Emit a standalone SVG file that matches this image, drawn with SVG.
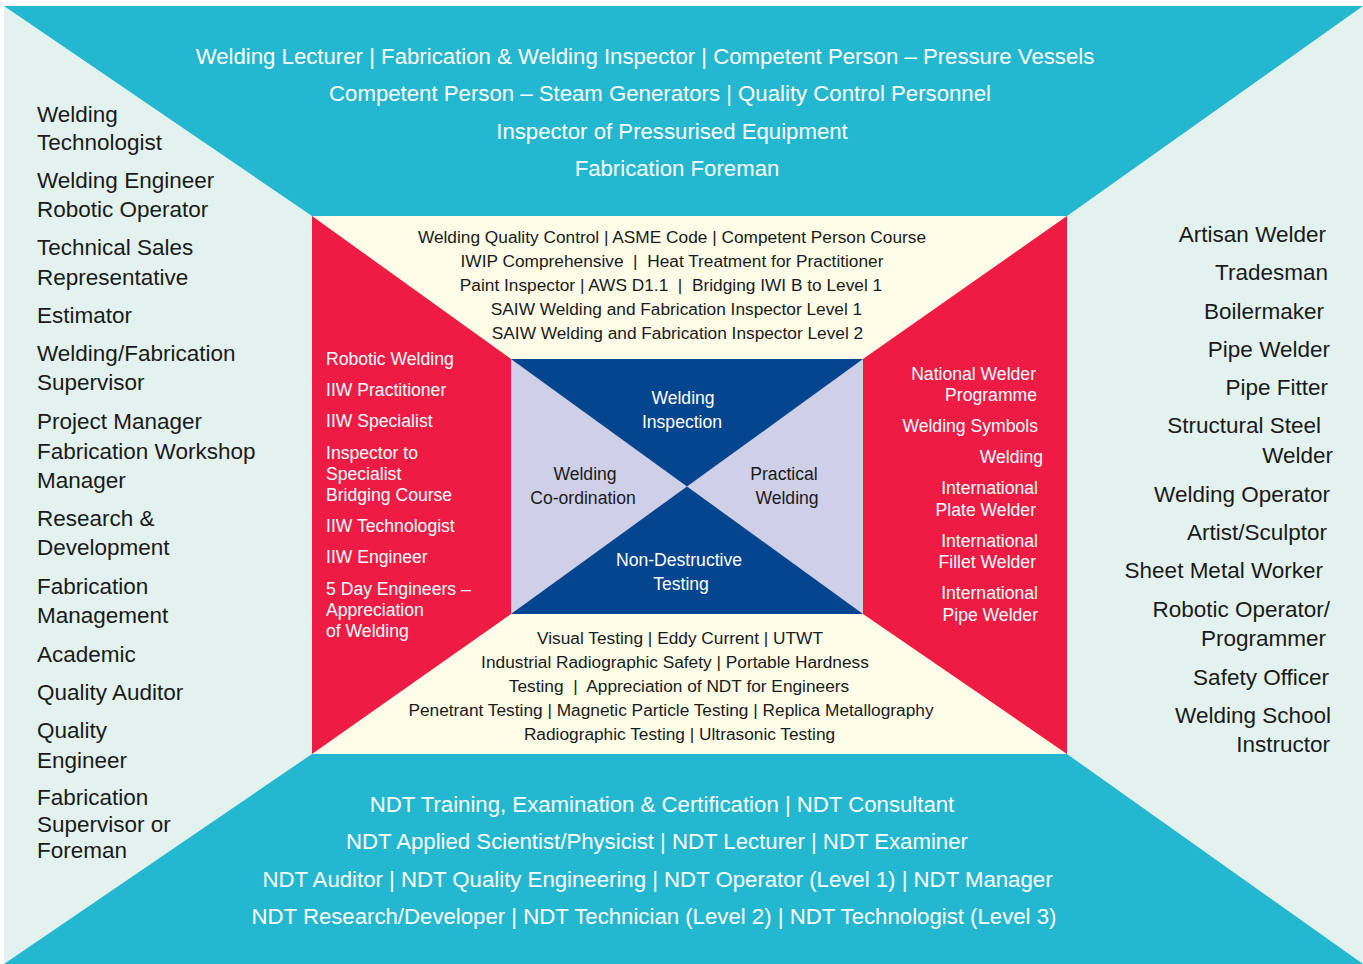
<svg xmlns="http://www.w3.org/2000/svg" width="1363" height="964" viewBox="0 0 1363 964">
  <style>
    text { font-family: "Liberation Sans", Arial, sans-serif; white-space: pre; }
    .dark { fill: #1a1a1a; }
    .light { fill: #ffffff; }
    .side { font-size: 22.5px; }
    .band { font-size: 22.2px; }
    .course { font-size: 17.3px; }
    .core { font-size: 17.6px; }
    .mid { text-anchor: middle; }
    .end { text-anchor: end; }
  </style>

  <rect x="0" y="0" width="1363" height="964" fill="#ffffff"/>

  <!-- outer frame: mint sides, teal top and bottom -->
  <g id="outer-frame">
    <rect x="4" y="6" width="1359" height="958" fill="#e3f2ee"/>
    <polygon points="4,6 1363,6 1067,216 312,216" fill="#23b8cf"/>
    <polygon points="312,754 1067,754 1363,964 4,964" fill="#23b8cf"/>
  </g>

  <!-- middle frame: cream top and bottom, red sides -->
  <g id="middle-frame">
    <rect x="312" y="216" width="755" height="538" fill="#fdfde8"/>
    <polygon points="312,216 511,359 511,614 312,754" fill="#ee1b44"/>
    <polygon points="1067,216 863,359 863,614 1067,754" fill="#ee1b44"/>
  </g>

  <!-- inner core: navy top and bottom, lavender sides -->
  <g id="inner-core">
    <rect x="511" y="359" width="352" height="255" fill="#03468f"/>
    <polygon points="511,359 687,486.5 511,614" fill="#cfd0e8"/>
    <polygon points="863,359 687,486.5 863,614" fill="#cfd0e8"/>
  </g>

  <!-- top band: inspection careers -->
  <g id="top-careers" class="light band mid">
    <text x="645" y="64">Welding Lecturer | Fabrication &amp; Welding Inspector | Competent Person – Pressure Vessels</text>
    <text x="660" y="101">Competent Person – Steam Generators | Quality Control Personnel</text>
    <text x="672" y="139">Inspector of Pressurised Equipment</text>
    <text x="677" y="176">Fabrication Foreman</text>
  </g>

  <!-- bottom band: NDT careers -->
  <g id="bottom-careers" class="light band mid">
    <text x="662" y="812">NDT Training, Examination &amp; Certification | NDT Consultant</text>
    <text x="657" y="849">NDT Applied Scientist/Physicist | NDT Lecturer | NDT Examiner</text>
    <text x="657.5" y="887">NDT Auditor | NDT Quality Engineering | NDT Operator (Level 1) | NDT Manager</text>
    <text x="654" y="924">NDT Research/Developer | NDT Technician (Level 2) | NDT Technologist (Level 3)</text>
  </g>

  <!-- left side: coordination careers -->
  <g id="left-careers" class="dark side">
    <text x="37" y="121.5">Welding</text>
    <text x="37" y="149.5">Technologist</text>
    <text x="37" y="187.5">Welding Engineer</text>
    <text x="37" y="216.5">Robotic Operator</text>
    <text x="37" y="255">Technical Sales</text>
    <text x="37" y="284.5">Representative</text>
    <text x="37" y="322.5">Estimator</text>
    <text x="37" y="360.5">Welding/Fabrication</text>
    <text x="37" y="390">Supervisor</text>
    <text x="37" y="429">Project Manager</text>
    <text x="37" y="458.5">Fabrication Workshop</text>
    <text x="37" y="487.5">Manager</text>
    <text x="37" y="526">Research &amp;</text>
    <text x="37" y="555">Development</text>
    <text x="37" y="594">Fabrication</text>
    <text x="37" y="623">Management</text>
    <text x="37" y="661.5">Academic</text>
    <text x="37" y="699.5">Quality Auditor</text>
    <text x="37" y="737.5">Quality</text>
    <text x="37" y="767.5">Engineer</text>
    <text x="37" y="805">Fabrication</text>
    <text x="37" y="831.5">Supervisor or</text>
    <text x="37" y="857.5">Foreman</text>
  </g>

  <!-- right side: practical careers -->
  <g id="right-careers" class="dark side end">
    <text x="1326" y="241.5">Artisan Welder</text>
    <text x="1328" y="280">Tradesman</text>
    <text x="1324" y="319">Boilermaker</text>
    <text x="1330" y="357">Pipe Welder</text>
    <text x="1328" y="395">Pipe Fitter</text>
    <text x="1321" y="433">Structural Steel</text>
    <text x="1333" y="462.5">Welder</text>
    <text x="1330" y="502">Welding Operator</text>
    <text x="1327" y="540">Artist/Sculptor</text>
    <text x="1323" y="578">Sheet Metal Worker</text>
    <text x="1330" y="617">Robotic Operator/</text>
    <text x="1326" y="646">Programmer</text>
    <text x="1329" y="685">Safety Officer</text>
    <text x="1331" y="723">Welding School</text>
    <text x="1330" y="752">Instructor</text>
  </g>

  <!-- cream top: inspection courses -->
  <g id="inspection-courses" class="dark course mid">
    <text x="672" y="243">Welding Quality Control | ASME Code | Competent Person Course</text>
    <text x="672" y="267">IWIP Comprehensive  |  Heat Treatment for Practitioner</text>
    <text x="671" y="291">Paint Inspector | AWS D1.1  |  Bridging IWI B to Level 1</text>
    <text x="676.5" y="315">SAIW Welding and Fabrication Inspector Level 1</text>
    <text x="677.5" y="339">SAIW Welding and Fabrication Inspector Level 2</text>
  </g>

  <!-- cream bottom: NDT courses -->
  <g id="ndt-courses" class="dark course mid">
    <text x="680" y="644">Visual Testing | Eddy Current | UTWT</text>
    <text x="675" y="668">Industrial Radiographic Safety | Portable Hardness</text>
    <text x="679" y="692">Testing  |  Appreciation of NDT for Engineers</text>
    <text x="671" y="716">Penetrant Testing | Magnetic Particle Testing | Replica Metallography</text>
    <text x="679.5" y="740">Radiographic Testing | Ultrasonic Testing</text>
  </g>

  <!-- red left: coordination courses -->
  <g id="coordination-courses" class="light core">
    <text x="326" y="365">Robotic Welding</text>
    <text x="326" y="396">IIW Practitioner</text>
    <text x="326" y="427">IIW Specialist</text>
    <text x="326" y="459">Inspector to</text>
    <text x="326" y="480">Specialist</text>
    <text x="326" y="501">Bridging Course</text>
    <text x="326" y="532">IIW Technologist</text>
    <text x="326" y="563">IIW Engineer</text>
    <text x="326" y="595">5 Day Engineers –</text>
    <text x="326" y="616">Appreciation</text>
    <text x="326" y="637">of Welding</text>
  </g>

  <!-- red right: practical courses -->
  <g id="practical-courses" class="light core end">
    <text x="1036" y="380">National Welder</text>
    <text x="1037" y="401">Programme</text>
    <text x="1038" y="432">Welding Symbols</text>
    <text x="1043" y="463">Welding</text>
    <text x="1038" y="494">International</text>
    <text x="1036" y="516">Plate Welder</text>
    <text x="1038" y="547">International</text>
    <text x="1036" y="568">Fillet Welder</text>
    <text x="1038" y="599">International</text>
    <text x="1038" y="621">Pipe Welder</text>
  </g>

  <!-- core labels -->
  <g id="core-inspection" class="light core mid">
    <text x="683" y="404">Welding</text>
    <text x="682" y="428">Inspection</text>
  </g>
  <g id="core-coordination" class="dark core mid">
    <text x="585" y="480">Welding</text>
    <text x="583" y="504">Co-ordination</text>
  </g>
  <g id="core-practical" class="dark core mid">
    <text x="784" y="480">Practical</text>
    <text x="787" y="504">Welding</text>
  </g>
  <g id="core-ndt" class="light core mid">
    <text x="679" y="566">Non-Destructive</text>
    <text x="681" y="590">Testing</text>
  </g>
</svg>
